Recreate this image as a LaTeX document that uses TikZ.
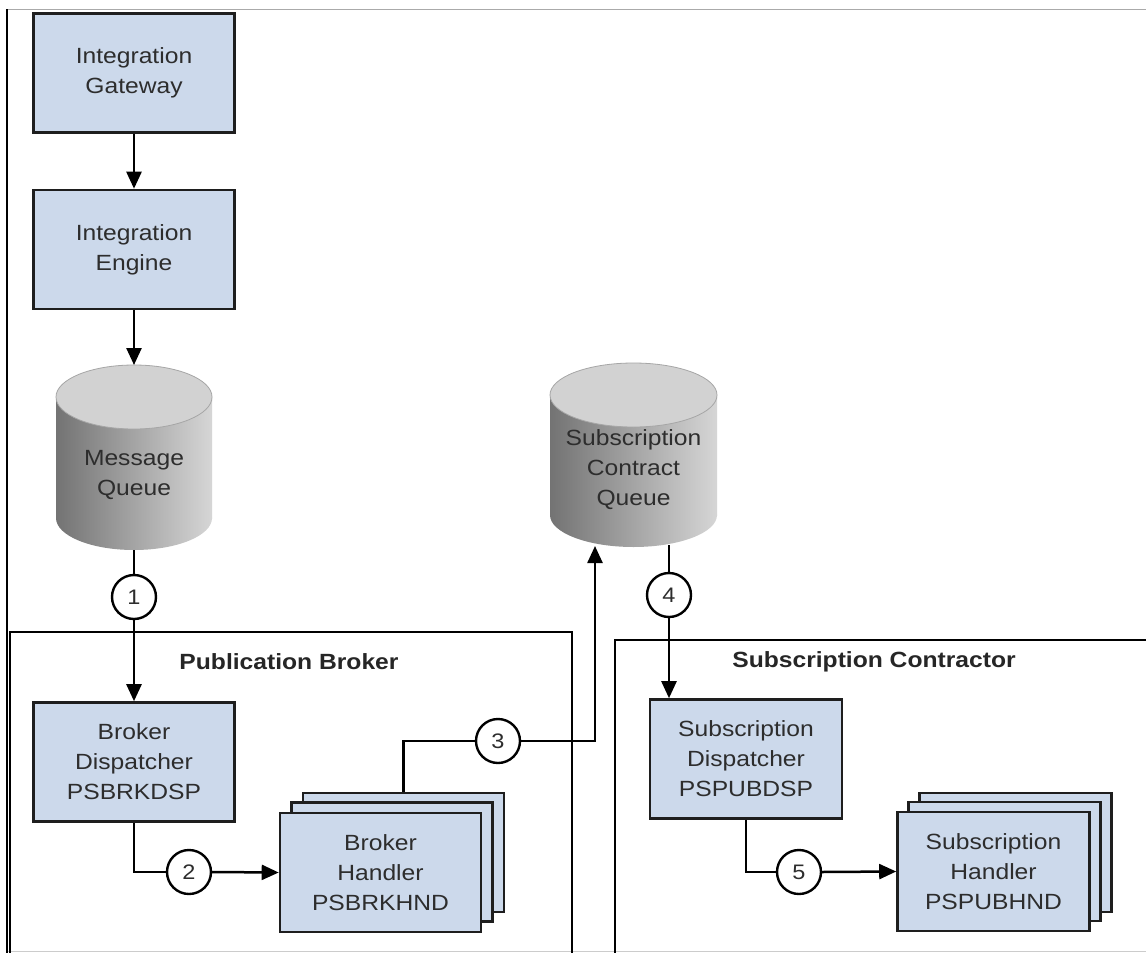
\documentclass[tikz,border=0pt]{standalone}
\usepackage{fontspec}
\setmainfont[FakeStretch=1.12]{Liberation Sans}
\usetikzlibrary{arrows.meta}
\definecolor{boxfill}{RGB}{204,217,235}
\definecolor{boxline}{RGB}{30,30,30}
\definecolor{txt}{RGB}{45,45,45}
\definecolor{cyldark}{RGB}{115,115,115}
\definecolor{cyllight}{RGB}{214,214,214}
\definecolor{cyltop}{RGB}{210,210,210}
\definecolor{framegray}{RGB}{170,170,170}
\begin{document}
\begin{tikzpicture}[x=1pt,y=-1pt,
  box/.style={draw=boxline, line width=2.6pt, fill=boxfill, minimum width=201pt, minimum height=119pt,
    align=center, text=txt, font=\fontsize{22}{30}\selectfont, inner sep=0pt},
  sbox/.style={box, minimum width=192pt},
  conn/.style={line width=2.5pt, draw=black},
  arr/.style={conn, -{Triangle[length=17pt,width=15pt]}},
  numc/.style={circle, draw=black, line width=2.4pt, fill=white, minimum size=44pt, inner sep=0pt,
    text=txt, font=\fontsize{21}{21}\selectfont},
  cyltext/.style={align=center, text=txt, font=\fontsize{22}{30}\selectfont, inner sep=0pt},
  title/.style={font=\bfseries\fontsize{22}{26}\selectfont, text=black!85, inner sep=0pt},
  container/.style={draw=black, line width=2.4pt}
]
\useasboundingbox (0,0) rectangle (1146,953);
\fill[white] (0,0) rectangle (1146,953);

% frame
\draw[framegray, line width=1pt] (7,9) -- (1146,9);
\draw[framegray!60, line width=1pt] (7,951) -- (1146,951);
\draw[black, line width=1.8pt] (7,9) -- (7,953);

% containers
\draw[container] (10,953) -- (10,632) -- (572,632) -- (572,953);
\draw[container] (615,953) -- (615,640) -- (1146,640);
\node[title] (pbt) at (289,662) {Publication Broker};
\node[title] (sct) at (874,662) {Subscription Contractor};

% top boxes
\node[box] (gw) at (134,73) {Integration\\Gateway};
\node[box] (ie) at (134,249.5) {Integration\\Engine};

% message queue cylinder
\shade[left color=cyldark, right color=cyllight] (56,397) rectangle (212,518);
\shade[left color=cyldark, right color=cyllight] (134,518) ellipse [x radius=78, y radius=32];
\filldraw[fill=cyltop, draw=black!35, line width=0.8pt] (134,397) ellipse [x radius=78, y radius=32];
\node[cyltext] (mq) at (134,475) {Message\\Queue};
\coordinate (mqtop) at (134,365);
\coordinate (mqbot) at (134,550);

% subscription contract queue cylinder
\shade[left color=cyldark, right color=cyllight] (550,395) rectangle (717,515);
\shade[left color=cyldark, right color=cyllight] (633.5,515) ellipse [x radius=83.5, y radius=32];
\filldraw[fill=cyltop, draw=black!35, line width=0.8pt] (633.5,395) ellipse [x radius=83.5, y radius=32];
\node[cyltext] (scq) at (633.5,470) {Subscription\\Contract\\Queue};
\coordinate (scqin) at (595,546);
\coordinate (scqout) at (669,545);

% publication broker contents
\node[box] (bd) at (134,762) {Broker\\Dispatcher\\PSBRKDSP};
\node[box] (bhb) at (403.5,852.5) {};
\node[box] (bhm) at (392,862) {};
\node[box] (bhf) at (380.5,872.5) {Broker\\Handler\\PSBRKHND};

% subscription contractor contents
\node[sbox] (sd) at (746,759) {Subscription\\Dispatcher\\PSPUBDSP};
\node[sbox] (shb) at (1015.5,852.5) {};
\node[sbox] (shm) at (1004.5,861.5) {};
\node[sbox] (shf) at (993.5,871.5) {Subscription\\Handler\\PSPUBHND};

% numbered circles
\node[numc] (c1) at (134,597) {1};
\node[numc] (c2) at (189,872) {2};
\node[numc] (c3) at (498,741) {3};
\node[numc] (c4) at (669,595) {4};
\node[numc] (c5) at (799,872) {5};

% connectors
\draw[arr] (gw.south) -- (ie.north);
\draw[arr] (ie.south) -- (mqtop);
\draw[conn] (mqbot) -- (c1.north);
\draw[arr] (c1.south) -- (bd.north);
\draw[conn] (bd.south) |- (c2.west);
\draw[arr] (c2.east) -- (bhf.west);
\draw[conn] (bhb.north) |- (c3.west);
\draw[arr] (c3.east) -| (scqin);
\draw[conn] (scqout) -- (c4.north);
\draw[arr] (c4.south) -- (c4.south |- sd.north);
\draw[conn] (sd.south) |- (c5.west);
\draw[arr] (c5.east) -- (shf.west);
\end{tikzpicture}
\end{document}
